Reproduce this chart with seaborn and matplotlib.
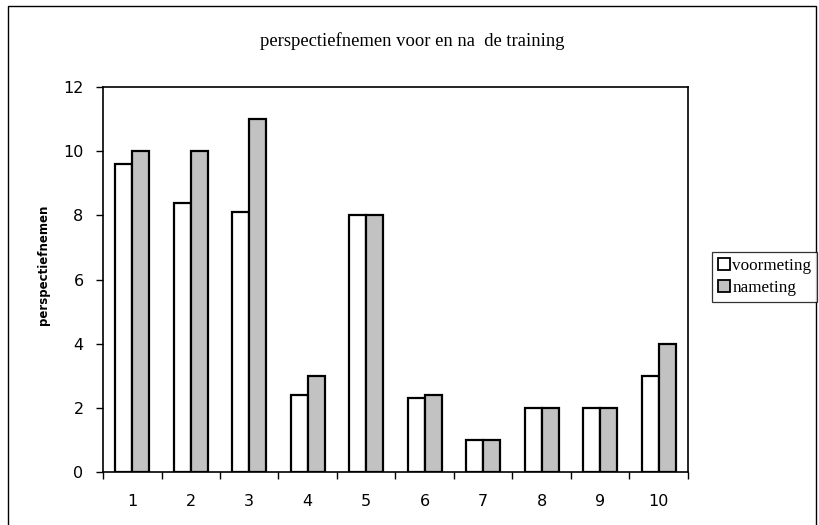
import matplotlib
matplotlib.use('Agg')
import matplotlib.pyplot as plt
from matplotlib.patches import Rectangle
from matplotlib.ticker import MultipleLocator, FixedLocator
import pandas as pd
import seaborn as sns

# data
metingen = ['1', '2', '3', '4', '5', '6', '7', '8', '9', '10']
voormeting = [9.6, 8.4, 8.1, 2.4, 8.0, 2.3, 1.0, 2.0, 2.0, 3.0]
nameting = [10.0, 10.0, 11.0, 3.0, 8.0, 2.4, 1.0, 2.0, 2.0, 4.0]
series = ['voormeting', 'nameting']

df = pd.DataFrame({
    'meting': metingen * 2,
    'waarde': voormeting + nameting,
    'serie': [series[0]] * len(metingen) + [series[1]] * len(metingen),
})

sns.set_style('white')
plt.rcParams['font.family'] = ['DejaVu Sans']
plt.rcParams['text.color'] = 'black'
plt.rcParams['xtick.color'] = 'black'
plt.rcParams['ytick.color'] = 'black'
plt.rcParams['axes.labelcolor'] = 'black'

fig = plt.figure(figsize=(8.19, 5.25), dpi=100)
ax = fig.add_axes([0.1258, 0.101, 0.714, 0.733])

sns.barplot(data=df, x='meting', y='waarde', hue='serie', order=metingen,
            hue_order=series, palette=['white', '#c2c2c2'],
            edgecolor='black', linewidth=1.6, width=0.58, gap=0,
            saturation=1, ax=ax, legend=False)

ax.set_xlim(-0.5, len(metingen) - 0.5)
ax.set_ylim(0, 12)
ax.yaxis.set_major_locator(MultipleLocator(2))
ax.xaxis.set_minor_locator(FixedLocator([i - 0.5 for i in range(len(metingen) + 1)]))
ax.tick_params(axis='x', which='major', length=0, pad=16, labelsize=11.5)
ax.tick_params(axis='x', which='minor', length=5, width=1, direction='out', bottom=True)
ax.tick_params(axis='y', length=5, width=1, direction='out', left=True, pad=9, labelsize=11.5)
for s in ax.spines.values():
    s.set_linewidth(1.2)
    s.set_color('black')

ax.set_xlabel('')
ax.set_ylabel('perspectiefnemen', fontsize=8.5, fontweight='bold')
ax.yaxis.set_label_coords(-0.09, 0.538)

fig.text(0.503, 0.922, 'perspectiefnemen voor en na  de training',
         ha='center', va='center', fontsize=13.4, family='Liberation Serif')

# legend
handles = [Rectangle((0, 0), 1, 1, facecolor='white', edgecolor='black', linewidth=1.3),
           Rectangle((0, 0), 1, 1, facecolor='#c2c2c2', edgecolor='black', linewidth=1.3)]
leg = fig.legend(handles, series, loc='upper left', bbox_to_anchor=(0.869, 0.52),
                 frameon=True, fancybox=False, edgecolor='black',
                 prop={'family': 'Liberation Serif', 'size': 12.3},
                 handlelength=0.7, handleheight=0.7, handletextpad=0.15,
                 borderpad=0.35, labelspacing=0.35, borderaxespad=0)
leg.get_frame().set_linewidth(0.9)

# chart border
fig.patches.append(Rectangle((8 / 819, -0.02), 808 / 819, 1 - 6 / 525 + 0.02,
                             transform=fig.transFigure, fill=False,
                             edgecolor='black', linewidth=1.0))

fig.savefig('out.png', dpi=100)
